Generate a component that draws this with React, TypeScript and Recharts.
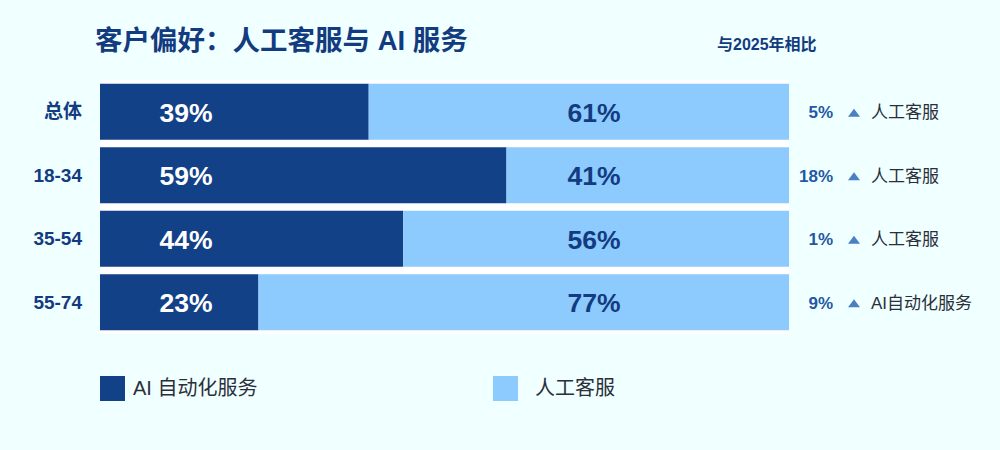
import { BarChart, Bar, XAxis, YAxis, CartesianGrid, LabelList, Legend } from "recharts";

const categories = ["总体", "18-34", "35-54", "55-74"];
const aiShare = [39, 59, 44, 23];
const humanShare = [61, 41, 56, 77];
const changeValues = [5, 18, 1, 9];
const changeLabels = ["人工客服", "人工客服", "人工客服", "AI自动化服务"];

const DARK = "#134188";
const LIGHT = "#8dcafd";
const NAVY = "#123b80";
const FONT = '"Liberation Sans", Arial, "Noto Sans CJK SC", sans-serif';

const data = categories.map((name, i) => ({
  name,
  ai: aiShare[i],
  human: humanShare[i],
  change: changeValues[i],
  changeLabel: changeLabels[i],
}));

const DarkLabel = (props: any) => {
  const { x, y, height, value } = props;
  return (
    <text
      x={x + 86}
      y={y + height / 2 + 1}
      textAnchor="middle"
      dominantBaseline="central"
      fill="#ffffff"
      fontSize={26.5}
      fontWeight="bold"
      fontFamily={FONT}
    >
      {value}%
    </text>
  );
};

const LightLabel = (props: any) => {
  const { x, y, width, height, value } = props;
  return (
    <text
      x={x + width - 195}
      y={y + height / 2 + 1}
      textAnchor="middle"
      dominantBaseline="central"
      fill={NAVY}
      fontSize={26.5}
      fontWeight="bold"
      fontFamily={FONT}
    >
      {value}%
    </text>
  );
};

const ChangeNote = (props: any) => {
  const { x, y, width, height, index } = props;
  const end = x + width;
  const cy = y + height / 2 + 1;
  return (
    <g fontFamily={FONT}>
      <text
        x={end + 44}
        y={cy}
        textAnchor="end"
        dominantBaseline="central"
        fill="#2457a5"
        fontSize={17}
        fontWeight="bold"
      >
        {changeValues[index]}%
      </text>
      <polygon
        points={`${end + 59},${cy + 4} ${end + 71},${cy + 4} ${end + 65},${cy - 4}`}
        fill="#4a7fc2"
      />
      <text
        x={end + 82}
        y={cy}
        dominantBaseline="central"
        fill="#2b2f3a"
        fontSize={17}
      >
        {changeLabels[index]}
      </text>
    </g>
  );
};

const CategoryTick = (props: any) => {
  const { y, payload } = props;
  return (
    <text
      x={82}
      y={y}
      textAnchor="end"
      dominantBaseline="central"
      fill={NAVY}
      fontSize={19}
      fontWeight="bold"
      fontFamily={FONT}
    >
      {payload.value}
    </text>
  );
};

const renderLegend = () => (
  <div style={{ position: "relative", width: 600, height: 26, fontFamily: FONT }}>
    <div style={{ position: "absolute", left: 0, top: 0, width: 25, height: 25, background: DARK }} />
    <div style={{ position: "absolute", left: 33, top: 0, fontSize: 20, lineHeight: "25px", color: "#2b2f3a" }}>
      AI 自动化服务
    </div>
    <div style={{ position: "absolute", left: 393, top: 0, width: 25, height: 25, background: LIGHT }} />
    <div style={{ position: "absolute", left: 435, top: 0, fontSize: 20, lineHeight: "25px", color: "#2b2f3a" }}>
      人工客服
    </div>
  </div>
);

export default function App() {
  return (
    <div
      style={{
        position: "absolute",
        left: 0,
        top: 0,
        width: 1000,
        height: 450,
        background: "#f0ffff",
        fontFamily: FONT,
      }}
    >
      <div
        style={{
          position: "absolute",
          left: 95,
          top: 18,
          fontSize: 27.5,
          fontWeight: "bold",
          color: NAVY,
          whiteSpace: "nowrap",
        }}
      >
        客户偏好：人工客服与 AI 服务
      </div>
      <div
        style={{
          position: "absolute",
          left: 717,
          top: 31,
          fontSize: 16,
          fontWeight: "bold",
          color: NAVY,
          whiteSpace: "nowrap",
        }}
      >
        与2025年相比
      </div>
      <BarChart
        width={1000}
        height={450}
        data={data}
        layout="vertical"
        margin={{ top: 80, right: 211, bottom: 90, left: 0 }}
        barCategoryGap={3.75}
        style={{ position: "absolute", left: 0, top: 0 }}
      >
        <CartesianGrid horizontal={false} vertical={false} fill="#ffffff" />
        <XAxis type="number" domain={[0, 100]} hide />
        <YAxis
          type="category"
          dataKey="name"
          width={100}
          axisLine={false}
          tickLine={false}
          tick={<CategoryTick />}
        />
        <Bar dataKey="ai" stackId="a" fill={DARK} isAnimationActive={false}>
          <LabelList dataKey="ai" content={<DarkLabel />} />
        </Bar>
        <Bar dataKey="human" stackId="a" fill={LIGHT} isAnimationActive={false}>
          <LabelList dataKey="human" content={<LightLabel />} />
          <LabelList dataKey="change" content={<ChangeNote />} />
        </Bar>
        <Legend
          content={renderLegend}
          wrapperStyle={{ position: "absolute", left: 100, top: 376, width: 600 }}
        />
      </BarChart>
    </div>
  );
}
